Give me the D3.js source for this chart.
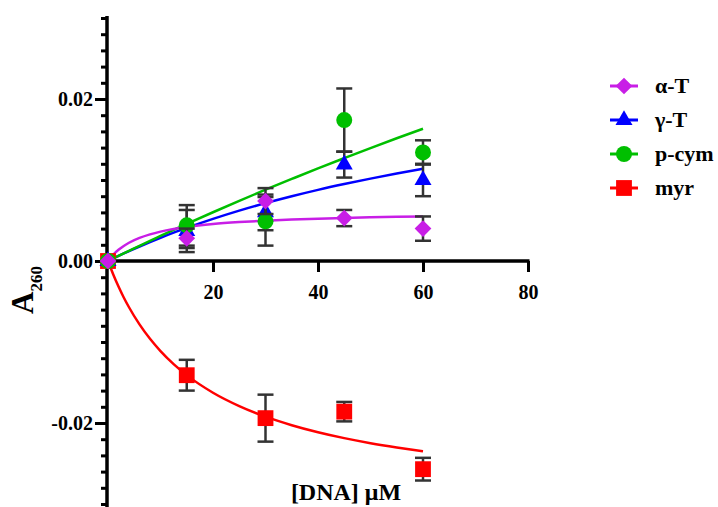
<!DOCTYPE html>
<html>
<head>
<meta charset="utf-8">
<script src="https://cdn.jsdelivr.net/npm/d3@7"></script>
<style>
  body { margin: 0; background: #fff; }
  text { font-family: "Liberation Serif", "Times New Roman", serif; font-weight: bold; fill: #000; }
</style>
</head>
<body>
<svg id="chart" width="718" height="507"></svg>
<script>
// A260 vs [DNA] -- measured points with error bars and the fitted curves

var WIDTH  = 718;
var HEIGHT = 507;

// concentrations of the measured points
var DNA = [0, 15, 30, 45, 60];

// measured absorbance changes and their errors
var ALPHA_T     = [0, 0.0028, 0.0074, 0.0053, 0.0040];
var ALPHA_T_ERR = [0, 0.0012, 0.0016, 0.0010, 0.0015];
var GAMMA_T     = [0, 0.0037, 0.0060, 0.0119, 0.0100];
var GAMMA_T_ERR = [0, 0.0026, 0.0022, 0.0016, 0.0020];
var PCYM        = [0, 0.0044, 0.0049, 0.0174, 0.0134];
var PCYM_ERR    = [0, 0.0025, 0.0030, 0.0039, 0.0015];
var MYR         = [0, -0.0141, -0.0194, -0.0186, -0.0257];
var MYR_ERR     = [0, 0.0019, 0.0029, 0.0012, 0.0014];

// fitted curves
var FIT_X = [0, 1, 2, 3, 4, 6, 8, 10, 12.5, 15, 20, 25, 30, 35, 40, 45, 50, 55, 60];
var ALPHA_T_FIT = [0, 0.00078, 0.00138, 0.00186, 0.00225, 0.00285, 0.00329, 0.00363, 0.00395,
                   0.0042, 0.00456, 0.0048, 0.00498, 0.00512, 0.00523, 0.00532, 0.00539, 0.00545, 0.0055];
var GAMMA_T_FIT = [0, 0.00032, 0.00063, 0.00093, 0.00122, 0.00179, 0.00234, 0.00287, 0.0035,
                   0.00409, 0.0052, 0.00622, 0.00714, 0.00799, 0.00878, 0.0095, 0.01017, 0.0108, 0.01138];
var PCYM_FIT    = [0, 0.00032, 0.00063, 0.00095, 0.00126, 0.00188, 0.00249, 0.00309, 0.00384,
                   0.00458, 0.00602, 0.00743, 0.0088, 0.01013, 0.01144, 0.0127, 0.01394, 0.01515, 0.01633];
var MYR_FIT     = [0, -0.00166, -0.00315, -0.0045, -0.00571, -0.00783, -0.00961, -0.01112, -0.01273,
                   -0.01409, -0.01626, -0.01791, -0.01922, -0.02027, -0.02114, -0.02187, -0.02249, -0.02302, -0.02349];

var X_TICKS = [20, 40, 60, 80];
var Y_TICKS = [-0.02, 0, 0.02];

var svg = d3.select('#chart');
svg.append('rect').attr('width', WIDTH).attr('height', HEIGHT).attr('fill', '#fff');

var x = d3.scaleLinear().domain([0, 80]).range([108, 528]);
var y = d3.scaleLinear().domain([-0.03, 0.03]).range([504, 18]);

var series = [
  {name: 'α-T',   values: ALPHA_T, errs: ALPHA_T_ERR, fit: ALPHA_T_FIT, color: '#c81ee6',
   symbol: d3.symbolSquare, size: 140, rotate: 45},
  {name: 'γ-T',   values: GAMMA_T, errs: GAMMA_T_ERR, fit: GAMMA_T_FIT, color: '#0000ff',
   symbol: d3.symbolTriangle, size: 125, rotate: 0},
  {name: 'p-cym', values: PCYM, errs: PCYM_ERR, fit: PCYM_FIT, color: '#00bf00',
   symbol: d3.symbolCircle, size: 201, rotate: 0},
  {name: 'myr',   values: MYR, errs: MYR_ERR, fit: MYR_FIT, color: '#ff0000',
   symbol: d3.symbolSquare, size: 250, rotate: 0}
];

// axes
var yMinor = d3.axisLeft(y)
    .tickValues(d3.range(-15, 16).map(d => d * 0.002))
    .tickSize(6).tickSizeOuter(0).tickFormat('');
svg.append('g').attr('transform', 'translate(107,0)').call(yMinor)
   .call(g => g.select('.domain').remove())
   .call(g => g.selectAll('line').attr('stroke', '#000').attr('stroke-width', 3));

var fmt = d3.format('.2f');
var yMajor = d3.axisLeft(y)
    .tickValues(Y_TICKS).tickSize(12).tickSizeOuter(0).tickPadding(2)
    .tickFormat(d => fmt(d).replace('\u2212', '-'));
svg.append('g').attr('transform', 'translate(107,0)').call(yMajor)
   .call(g => g.select('.domain').remove())
   .call(g => g.selectAll('line').attr('stroke', '#000').attr('stroke-width', 3))
   .call(g => g.selectAll('text').attr('font-size', 20).attr('font-family', null));

var xAxis = d3.axisBottom(x)
    .tickValues(X_TICKS).tickSize(11).tickSizeOuter(0).tickPadding(13)
    .tickFormat(d3.format('d'));
svg.append('g').attr('transform', 'translate(0,' + y(0) + ')').call(xAxis)
   .call(g => g.select('.domain').remove())
   .call(g => g.selectAll('line').attr('stroke', '#000').attr('stroke-width', 3))
   .call(g => g.selectAll('text').attr('font-size', 20).attr('font-family', null));

svg.append('line').attr('x1', x(0) - 1).attr('x2', x(80) + 1.5)
   .attr('y1', y(0)).attr('y2', y(0)).attr('stroke', '#000').attr('stroke-width', 3.5);
svg.append('line').attr('x1', 107).attr('x2', 107)
   .attr('y1', 16).attr('y2', HEIGHT).attr('stroke', '#000').attr('stroke-width', 3.5);

// axis titles
svg.append('text').attr('x', 346).attr('y', 500).attr('text-anchor', 'middle')
   .attr('font-size', 24).text('[DNA] μM');

var yTitle = svg.append('text').attr('transform', 'translate(33,314) rotate(-90)')
   .attr('font-size', 31);
yTitle.append('tspan').text('A');
yTitle.append('tspan').attr('font-size', 17).attr('dy', 9).text('260');

// fitted curves
var line = d3.line()
    .x((d, i) => x(FIT_X[i]))
    .y(d => y(d))
    .curve(d3.curveMonotoneX);

var drawOrder = [3, 1, 2, 0];
drawOrder.forEach(k => {
  var s = series[k];
  svg.append('path').attr('d', line(s.fit)).attr('fill', 'none')
     .attr('stroke', s.color).attr('stroke-width', 2.5);
});

// error bars and markers, one data set at a time
drawOrder.forEach(k => {
  var s = series[k];
  var g = svg.append('g');
  DNA.forEach((c, i) => {
    var e = s.errs[i];
    if (!e) return;
    var cx = x(c), y1 = y(s.values[i] + e), y2 = y(s.values[i] - e);
    g.append('line').attr('x1', cx).attr('x2', cx).attr('y1', y1).attr('y2', y2)
     .attr('stroke', '#333').attr('stroke-width', 2.5);
    [y1, y2].forEach(yy => {
      g.append('line').attr('x1', cx - 8).attr('x2', cx + 8).attr('y1', yy).attr('y2', yy)
       .attr('stroke', '#333').attr('stroke-width', 2.5);
    });
  });
  g.selectAll('path').data(s.values).enter().append('path')
   .attr('d', d3.symbol().type(s.symbol).size(s.size))
   .attr('transform', (d, i) => 'translate(' + x(DNA[i]) + ',' + y(d) + ') rotate(' + s.rotate + ')')
   .attr('fill', s.color);
});

// legend
var legend = svg.append('g');
series.forEach((s, i) => {
  var ly = 86 + i * 34;
  legend.append('line').attr('x1', 610).attr('x2', 638).attr('y1', ly).attr('y2', ly)
        .attr('stroke', s.color).attr('stroke-width', 3);
  legend.append('path').attr('d', d3.symbol().type(s.symbol).size(s.size))
        .attr('transform', 'translate(624,' + ly + ') rotate(' + s.rotate + ')')
        .attr('fill', s.color);
  legend.append('text').attr('x', 655).attr('y', ly + 7).attr('font-size', 22).text(s.name);
});
</script>
</body>
</html>
